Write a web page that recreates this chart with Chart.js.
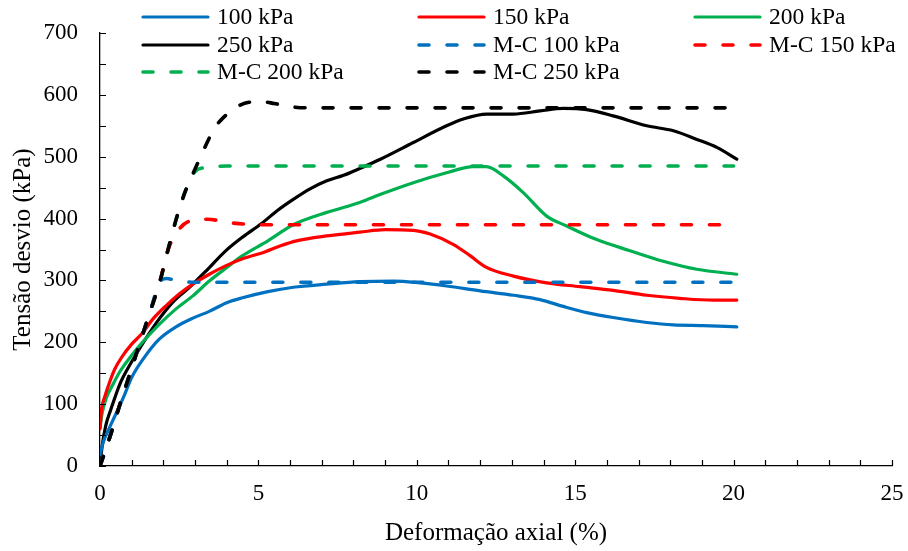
<!DOCTYPE html>
<html>
<head>
<meta charset="utf-8">
<title>Tensão desvio x Deformação axial</title>
<script src="https://cdn.jsdelivr.net/npm/chart.js@4.4.1/dist/chart.umd.min.js"></script>
<style>
    html, body { margin: 0; padding: 0; background: #fff; }
    #wrap { width: 908px; height: 551px; }
</style>
</head>
<body>
<div id="wrap"><canvas id="triaxChart" width="908" height="551"></canvas></div>
<script>
// ==================== DATA (strain %, deviator stress kPa) ====================
const s100 = [[0,18],[0.1,38],[0.3,62],[0.5,84],[0.75,112],[1.0,143],[1.35,172],[1.87,205],[2.4,225],[2.93,239],
    [3.45,250],[4.0,264],[4.5,272],[5.3,282],[6.1,289],[7.16,294],[8.2,298],[9.27,299],[10.1,296],[10.94,291],
    [12.0,283],[13.05,276],[13.89,269],[14.62,258],[15.36,248],[16.2,240],[17.26,232],[18.1,228],[19.04,227],[20.1,225]];
const s150 = [[0,60],[0.05,92],[0.15,112],[0.3,135],[0.46,156],[0.7,177],[1.0,197],[1.34,215],[1.66,237],[2.08,259],
    [2.5,278],[2.93,294],[3.45,310],[3.98,324],[4.5,335],[5.2,346],[5.7,356],[6.2,364],[7.16,372],[8.2,378],
    [9.0,382],[9.89,381],[10.42,375],[11.16,358],[11.68,340],[12.2,321],[13.05,307],[14.1,296],[15.15,290],[16.2,284],
    [17.26,276],[18.3,271],[19.36,268],[20.1,268]];
const s200 = [[0,62],[0.07,86],[0.2,110],[0.39,130],[0.62,152],[0.91,173],[1.34,200],[1.87,229],[2.4,254],[2.93,275],
    [3.45,299],[3.98,320],[4.5,340],[5.3,364],[6.1,390],[7.16,410],[8.2,426],[8.9,440],[9.89,458],[10.94,474],
    [11.79,484],[12.2,484],[12.73,469],[13.36,442],[14.1,404],[14.73,388],[15.68,366],[16.73,348],[17.78,331],[18.84,318],[20.1,310]];
const s250 = [[0,0],[0.07,33],[0.18,65],[0.34,91],[0.65,135],[0.86,156],[1.3,194],[1.8,233],[2.3,265],[2.85,290],
    [3.4,318],[3.95,347],[4.5,370],[5.1,392],[5.6,413],[6.1,431],[6.63,448],[7.16,461],[7.69,470],[8.2,481],
    [8.85,496],[9.89,523],[10.94,550],[11.47,561],[12.2,569],[13.05,569],[13.89,574],[14.62,578],[15.36,576],[16.2,566],
    [17.26,550],[18.1,542],[18.84,528],[19.47,515],[20.1,496]];

const mc100 = [[0,0],[0.3,45],[0.6,95],[0.9,142],[1.2,190],[1.6,252],[1.8,286],[1.95,301],[2.1,303],[2.4,300],[3.0,297],[20.0,297]];
const mc150 = [[0,0],[0.3,45],[0.6,95],[0.9,142],[1.2,190],[1.6,252],[1.9,300],[2.15,350],[2.5,383],[2.84,396],
    [3.4,399],[4.0,394],[4.6,391],[5.5,390],[20.0,390]];
const mc200 = [[0,0],[0.3,45],[0.6,95],[0.9,142],[1.2,190],[1.6,252],[1.9,300],[2.15,350],[2.4,398],[2.7,445],
    [3.0,476],[3.25,482],[3.6,484],[4.0,485],[20.0,485]];
const mc250 = [[0,0],[0.3,45],[0.6,95],[0.9,142],[1.2,190],[1.6,252],[1.9,300],[2.15,350],[2.4,398],[2.7,445],
    [3.0,480],[3.3,514],[3.6,545],[3.95,566],[4.3,580],[4.7,588],[5.1,589],[5.5,586],[6.0,581],[6.6,579],[20.0,579]];

const seriesLabels = ['100 kPa', '150 kPa', '200 kPa', '250 kPa', 'M-C 100 kPa', 'M-C 150 kPa', 'M-C 200 kPa', 'M-C 250 kPa'];
const seriesData = [s100, s150, s200, s250, mc100, mc150, mc200, mc250];
const seriesColors = ['#0070C0', '#FF0000', '#00B050', '#000000', '#0070C0', '#FF0000', '#00B050', '#000000'];

const xMax = 25, xStep = 1, xLabelEvery = 5;
const yMax = 700, yStep = 50, yLabelEvery = 100;

const FONT = '"Liberation Serif", "Times New Roman", serif';
const DASH = [10, 18];

// ==================== PLUGINS ====================
// inward tick marks on both axes
const innerTicks = {
    id: 'innerTicks',
    afterDraw(chart) {
        const ctx = chart.ctx;
        const xs = chart.scales.x, ys = chart.scales.y;
        const area = chart.chartArea;
        ctx.save();
        ctx.strokeStyle = '#000';
        ctx.lineWidth = 1.2;
        ctx.beginPath();
        xs.ticks.forEach(t => {
            const px = Math.round(xs.getPixelForValue(t.value)) + 0.5;
            ctx.moveTo(px, area.bottom);
            ctx.lineTo(px, area.bottom - 6);
        });
        ys.ticks.forEach(t => {
            const py = Math.round(ys.getPixelForValue(t.value)) + 0.5;
            ctx.moveTo(area.left, py);
            ctx.lineTo(area.left + 6, py);
        });
        ctx.stroke();
        ctx.restore();
    }
};

// three-column legend laid over the top of the plot
const gridLegend = {
    id: 'gridLegend',
    afterDraw(chart) {
        const ctx = chart.ctx;
        const cols = [141, 417, 693];
        const rows = [17, 45, 72];
        ctx.save();
        ctx.font = '23.5px ' + FONT;
        ctx.textBaseline = 'middle';
        ctx.fillStyle = '#000';
        chart.data.datasets.forEach((ds, i) => {
            const x = cols[i % 3], y = rows[Math.floor(i / 3)];
            ctx.strokeStyle = ds.borderColor;
            ctx.lineWidth = ds.borderWidth;
            ctx.lineCap = 'round';
            ctx.setLineDash(ds.borderDash || []);
            ctx.beginPath();
            ctx.moveTo(x + 2, y);
            ctx.lineTo(x + 67, y);
            ctx.stroke();
            ctx.setLineDash([]);
            ctx.fillText(ds.label, x + 76, y + 1);
        });
        ctx.restore();
    }
};

// ==================== CHART ====================
function initChart() {
    const datasets = seriesData.map((pts, i) => {
        const dashed = i >= 4;
        return {
            label: seriesLabels[i],
            data: pts.map(p => ({ x: p[0], y: p[1] })),
            borderColor: seriesColors[i],
            backgroundColor: seriesColors[i],
            borderWidth: dashed ? 3.6 : 3.2,
            borderDash: dashed ? DASH : [],
            borderCapStyle: 'round',
            borderJoinStyle: 'round',
            cubicInterpolationMode: 'monotone',
            pointRadius: 0,
            fill: false,
            order: dashed ? (i === 7 ? -1 : 0) : 1
        };
    });

    new Chart(document.getElementById('triaxChart'), {
        type: 'line',
        data: { datasets },
        options: {
            responsive: false,
            animation: false,
            layout: { padding: { top: 33, right: 16, left: 0, bottom: 0 } },
            plugins: { legend: { display: false }, tooltip: { enabled: false } },
            scales: {
                x: {
                    type: 'linear',
                    min: 0, max: xMax,
                    afterFit: s => { s.height = 85; s.paddingLeft = 0; s.paddingRight = 0; },
                    grid: { display: true, drawOnChartArea: false, drawTicks: false },
                    border: { display: true, color: '#000', width: 1.3 },
                    ticks: {
                        stepSize: xStep, autoSkip: false, maxRotation: 0, padding: 14,
                        color: '#000', font: { family: FONT, size: 23 },
                        callback: v => (v % xLabelEvery === 0 ? v : '')
                    },
                    title: {
                        display: true, text: 'Deformação axial (%)', color: '#000',
                        font: { family: FONT, size: 25 }, padding: { top: 0, bottom: 3 }
                    }
                },
                y: {
                    min: 0, max: yMax,
                    afterFit: s => { s.width = 100; s.paddingTop = 0; s.paddingBottom = 0; },
                    grid: { display: true, drawOnChartArea: false, drawTicks: false },
                    border: { display: true, color: '#000', width: 1.3 },
                    ticks: {
                        stepSize: yStep, autoSkip: false, padding: 22,
                        color: '#000', font: { family: FONT, size: 23 },
                        callback: v => (v % yLabelEvery === 0 ? v : '')
                    },
                    title: {
                        display: true, text: 'Tensão desvio (kPa)', color: '#000',
                        font: { family: FONT, size: 25 }, padding: { top: 8, bottom: 0 }
                    }
                }
            }
        },
        plugins: [innerTicks, gridLegend]
    });
}

if (document.readyState === 'loading') {
    document.addEventListener('DOMContentLoaded', initChart);
} else {
    initChart();
}
</script>
</body>
</html>
